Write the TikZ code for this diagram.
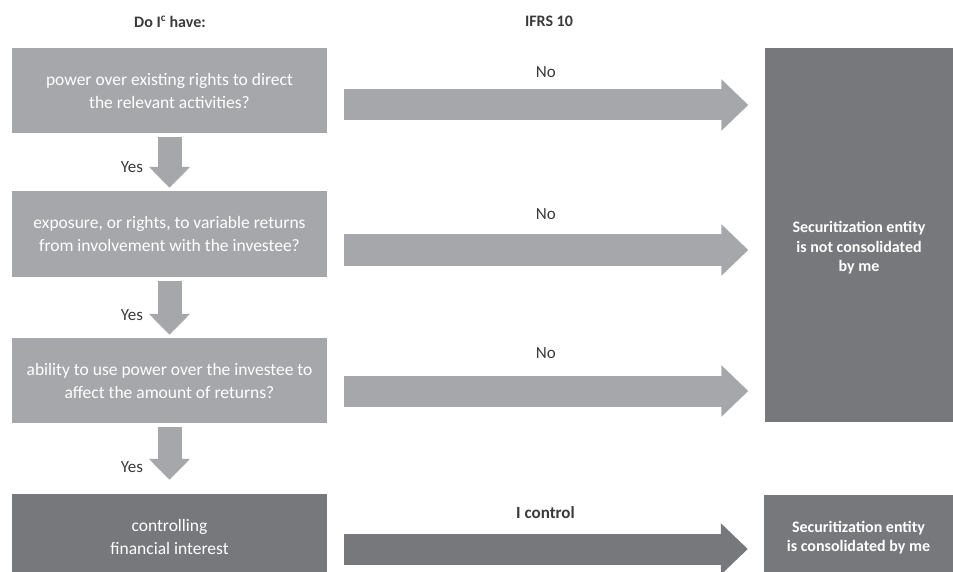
\documentclass[tikz,border=0pt]{standalone}
\usepackage{fontspec}
\setmainfont{Carlito}
\usetikzlibrary{arrows.meta, positioning, calc}
\definecolor{lightbox}{RGB}{166,167,170}
\definecolor{darkbox}{RGB}{119,120,124}
\definecolor{labeltext}{RGB}{58,58,60}

\begin{document}
\begin{tikzpicture}[
  x=1pt, y=-1pt,
  qbox/.style={fill=lightbox, minimum width=315pt, minimum height=85pt, inner sep=0pt, align=center, text=white, font=\fontsize{17.5}{23}\selectfont},
  rbox/.style={fill=darkbox, minimum width=189pt, inner sep=0pt, align=center, text=white, font=\bfseries\fontsize{16}{19.5}\selectfont},
  hor/.style={line width=31pt, -{Triangle[width=50pt,length=27pt]}, shorten <=17pt, shorten >=16pt},
  down/.style={line width=24pt, -{Triangle[width=40pt,length=21pt]}, draw=lightbox, shorten <=4pt, shorten >=3pt},
  lbl/.style={inner sep=0pt, outer sep=0pt, text=labeltext, font=\fontsize{17}{19}\selectfont},
  head/.style={inner sep=0pt, text=labeltext, font=\bfseries\fontsize{16}{19}\selectfont},
]
\useasboundingbox (0,0) rectangle (953,572);

% column headers
\node[head] (hdq) at (170,22) {Do I\textsuperscript{c} have:};
\node[head] (hdifrs) at (549,21) {IFRS 10};

% questions
\node[qbox] (q1) at (169.5,90.5) {power over existing rights to direct\\the relevant activities?};
\node[qbox, minimum height=86pt] (q2) at (169.5,234) {exposure, or rights, to variable returns\\from involvement with the investee?};
\node[qbox] (q3) at (169.5,380.5) {ability to use power over the investee to\\affect the amount of returns?};
\node[qbox, fill=darkbox, minimum height=86pt] (ctrl) at (169.5,537) {controlling\\financial interest};

% outcomes
\node[rbox, minimum height=374pt] (notcons) at (859,235) {\\[18pt]Securitization entity\\is not consolidated\\by me};
\node[rbox, minimum height=85pt] (cons) at (858.5,537.5) {Securitization entity\\is consolidated by me};

% yes arrows
\draw[down] (q1.south) -- (q2.north);
\draw[down] (q2.south) -- (q3.north);
\draw[down, shorten >=14pt] (q3.south) -- (ctrl.north);
\node[lbl, anchor=east] (yes1) at (143,167) {Yes};
\node[lbl, anchor=east] (yes2) at (143,315) {Yes};
\node[lbl, anchor=east] (yes3) at (143,467) {Yes};

% no / control arrows
\draw[hor, draw=lightbox] ([yshift=-14.5pt]q1.east) -- node[lbl, above=27pt] (no1) {No} ([yshift=-14.5pt]q1.east -| notcons.west);
\draw[hor, draw=lightbox] ([yshift=-16pt]q2.east) -- node[lbl, above=30pt] (no2) {No} ([yshift=-16pt]q2.east -| notcons.west);
\draw[hor, draw=lightbox] ([yshift=-10.5pt]q3.east) -- node[lbl, above=32pt] (no3) {No} ([yshift=-10.5pt]q3.east -| notcons.west);
\draw[hor, draw=darkbox] ([yshift=-12pt]ctrl.east) -- node[lbl, font=\bfseries\fontsize{17}{19}\selectfont, above=30pt] (ictrl) {I control} ([yshift=-12pt]ctrl.east -| cons.west);
\end{tikzpicture}
\end{document}
